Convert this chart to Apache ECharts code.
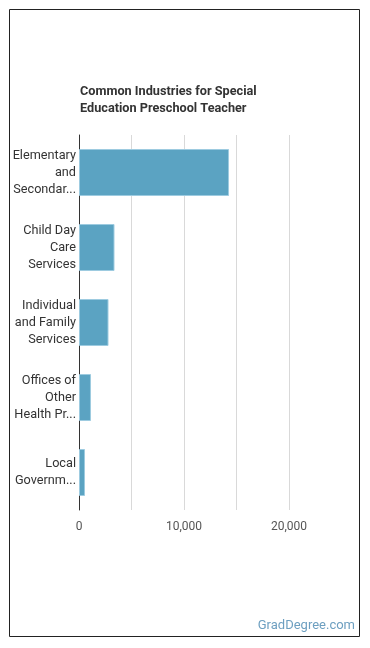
<!DOCTYPE html>
<html>
<head>
<meta charset="utf-8">
<script src="https://cdn.jsdelivr.net/npm/echarts@6/dist/echarts.min.js"></script>
<style>
  html, body { margin: 0; padding: 0; background: #fff; }
  #chart { width: 370px; height: 648px; }
</style>
</head>
<body>
<div id="chart"></div>
<script>
// industry labels as shown (wrapped / truncated like the original)
var industries = [
  'Elementary\nand\nSecondar...',
  'Child Day\nCare\nServices',
  'Individual\nand Family\nServices',
  'Offices of\nOther\nHealth Pr...',
  'Local\nGovernm...'
];
var employees = [14290, 3380, 2810, 1140, 570];

var chart = echarts.init(document.getElementById('chart'));

var option = {
  animation: false,
  title: {
    text: 'Common Industries for Special\nEducation Preschool Teacher',
    left: 80,
    top: 83,
    padding: 0,
    textStyle: {
      color: '#333',
      fontSize: 12.7,
      fontWeight: 'bold',
      fontFamily: 'Roboto',
      lineHeight: 17
    }
  },
  grid: {
    left: 79,
    right: 81,
    top: 135,
    bottom: 138
  },
  xAxis: {
    type: 'value',
    min: 0,
    max: 20000,
    interval: 5000,
    axisLine: {show: false},
    axisTick: {show: false},
    splitLine: {lineStyle: {color: '#d9d9d9'}},
    axisLabel: {
      color: '#555',
      fontSize: 12,
      fontFamily: 'Roboto',
      margin: 11,
      formatter: function (v) {
        if (v % 10000 !== 0) return '';
        return v.toLocaleString('en-US');
      }
    }
  },
  yAxis: {
    type: 'category',
    inverse: true,
    data: industries,
    axisLine: {show: true, lineStyle: {color: '#333'}},
    axisTick: {show: false},
    axisLabel: {
      color: '#333',
      fontSize: 12.7,
      fontFamily: 'Roboto',
      lineHeight: 17,
      margin: 3
    }
  },
  series: [
    {
      type: 'bar',
      data: employees,
      barWidth: 47,
      itemStyle: {
        color: '#5ba3c2',
        borderColor: '#9dcbe0',
        borderWidth: 1
      }
    }
  ],
  graphic: [
    {
      type: 'rect',
      shape: {x: 9.5, y: 9.5, width: 350, height: 627},
      style: {fill: 'none', stroke: '#222', lineWidth: 1}
    },
    {
      type: 'text',
      x: 355,
      y: 626,
      style: {
        text: 'GradDegree.com',
        fill: '#6d9fc0',
        font: '13px Roboto',
        textAlign: 'right',
        textVerticalAlign: 'middle'
      }
    }
  ]
};

chart.setOption(option);
</script>
</body>
</html>
